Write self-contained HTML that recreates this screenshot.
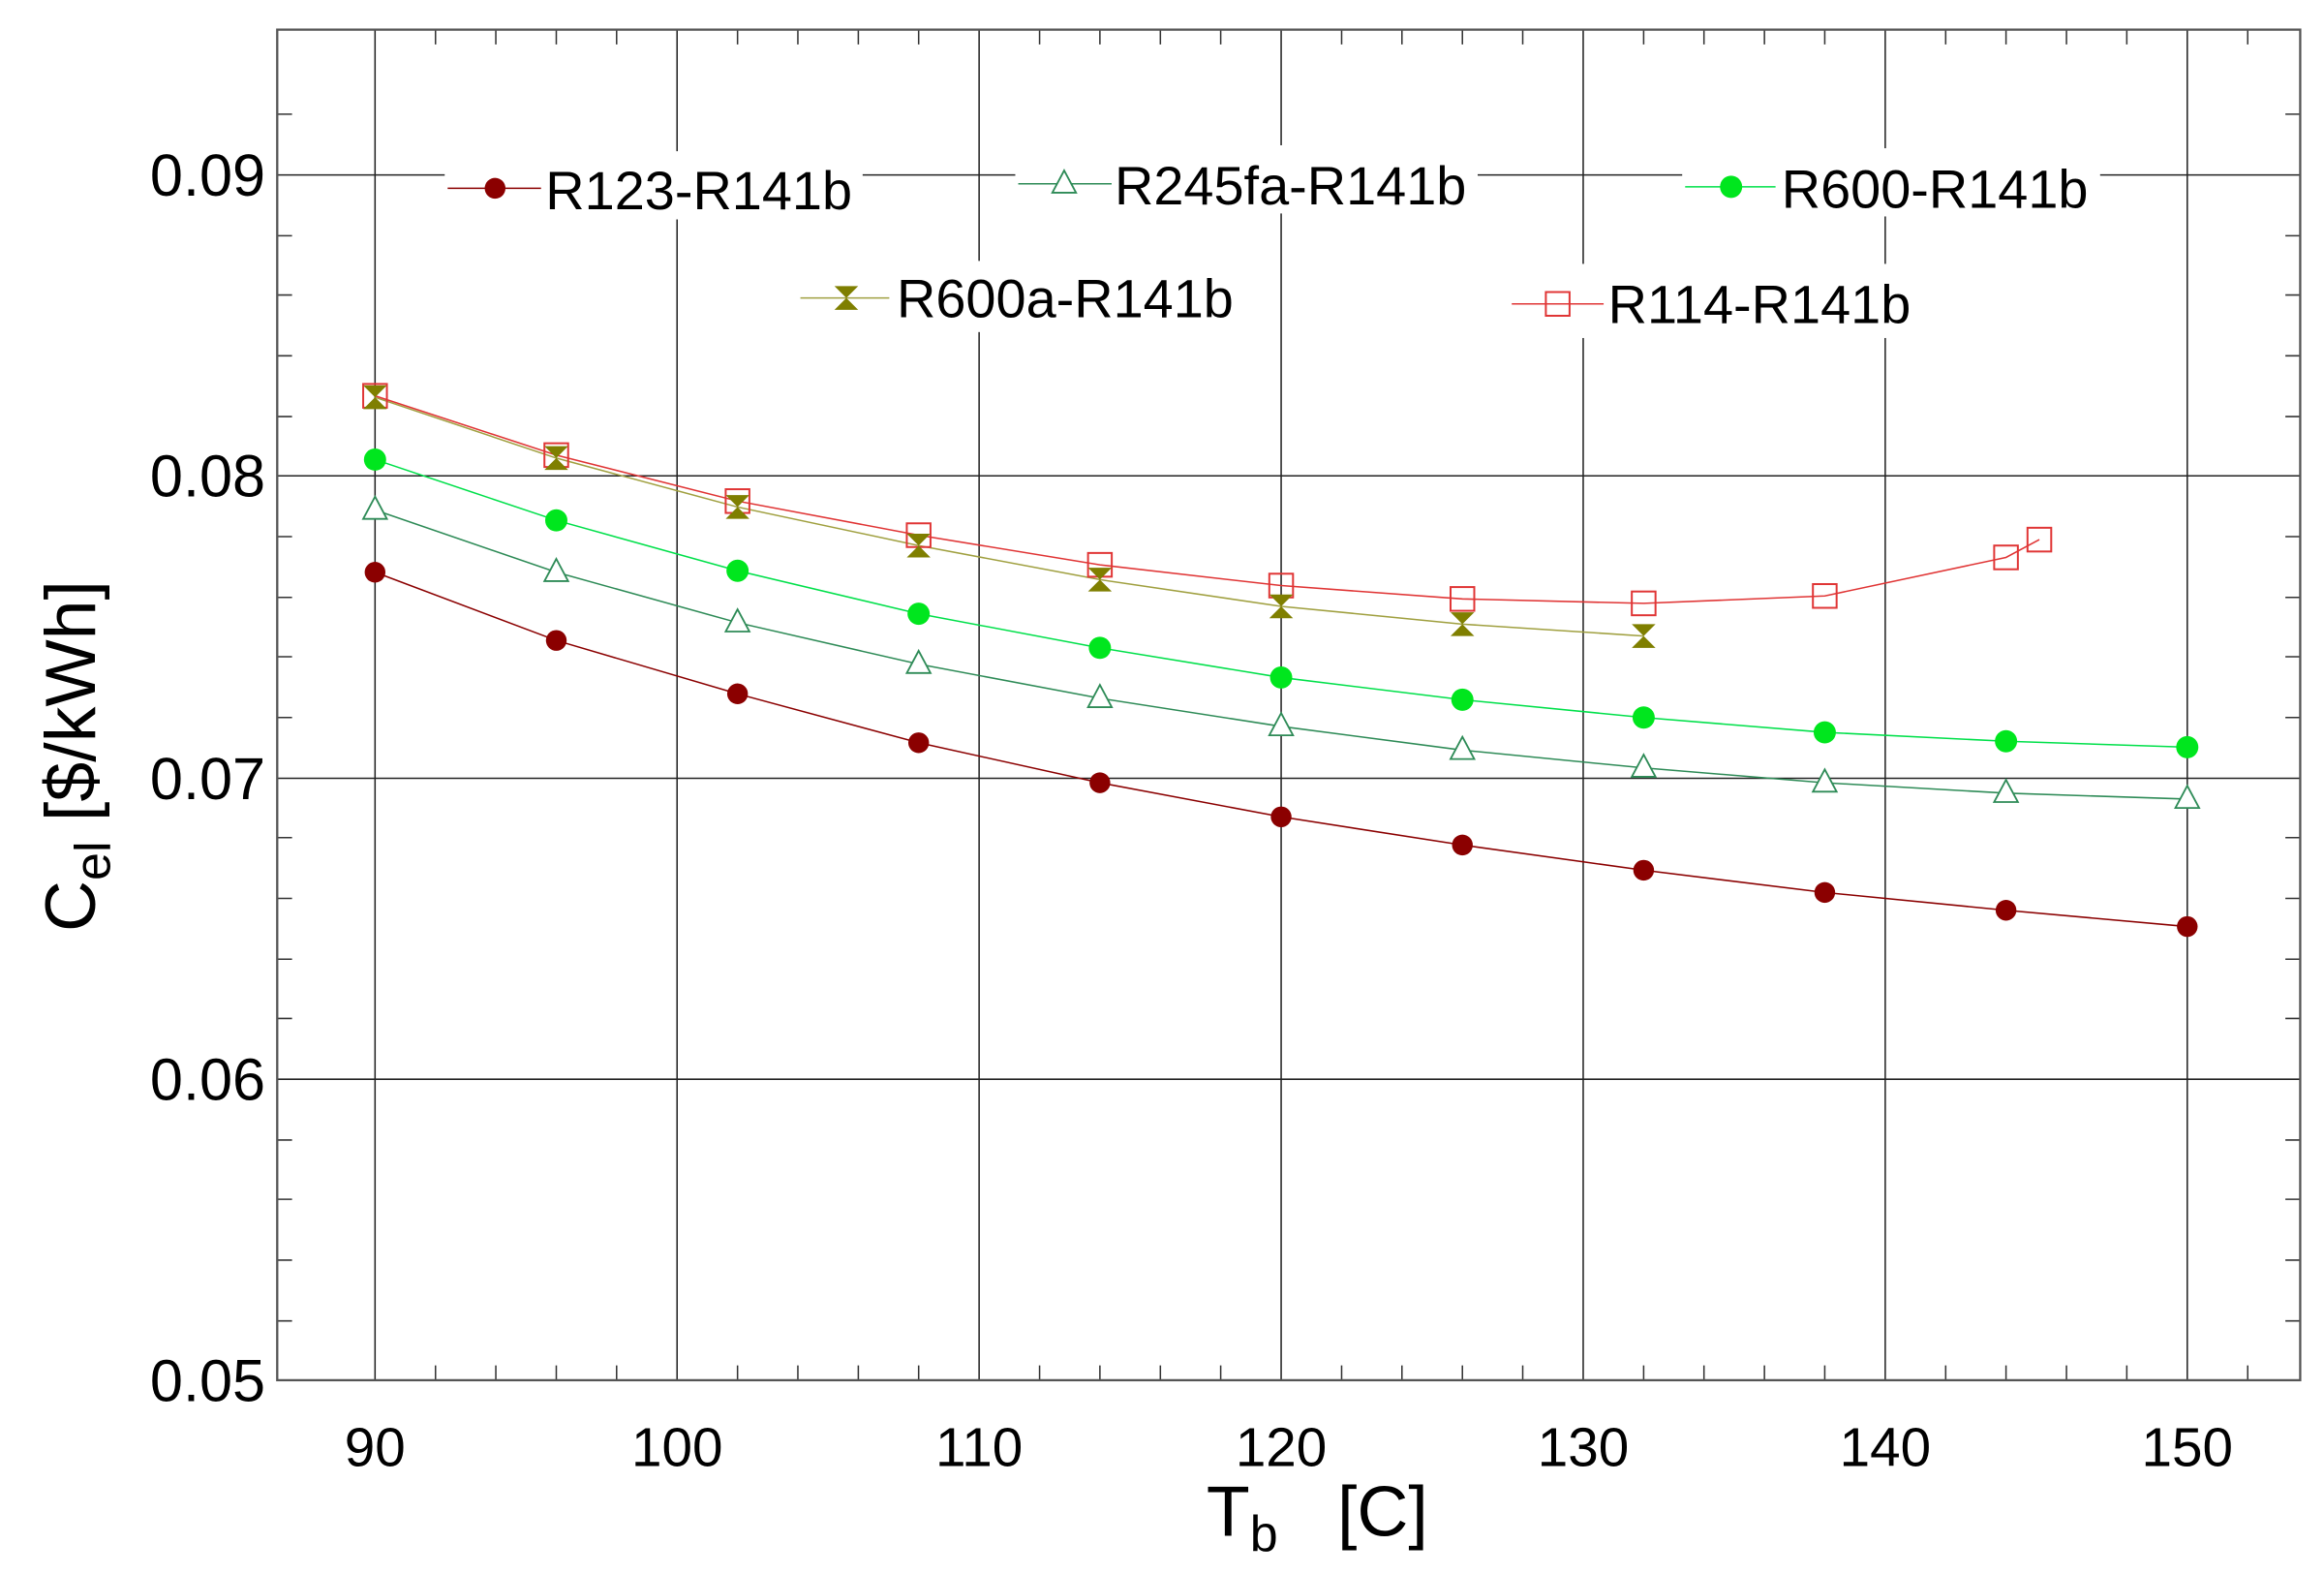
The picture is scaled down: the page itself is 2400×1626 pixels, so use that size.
<!DOCTYPE html>
<html><head><meta charset="utf-8"><style>html,body{margin:0;padding:0;background:#fff}svg{display:block}</style></head>
<body>
<svg width="2400" height="1626" viewBox="0 0 1568 1062.4" xmlns="http://www.w3.org/2000/svg" font-family="Liberation Sans, Arial, sans-serif">
<defs>
<circle id="cR" r="7" fill="#8b0000"/>
<circle id="cG" r="7.5" fill="#00e61e"/>
<path id="tri" d="M0,-9 L8,6 L-8,6 Z" fill="#fff" stroke="#2e8b57" stroke-width="1.2"/>
<rect id="sq" x="-8" y="-8" width="16" height="16" fill="none" stroke="#e03535" stroke-width="1.3"/>
<path id="hg" d="M-8,-8 L8,-8 L0,0 L8,8 L-8,8 L0,0 Z" fill="#7f7f00"/>
</defs>
<rect width="1568" height="1062.4" fill="#fff"/>
<g stroke="#222" stroke-width="1">
<line x1="253" y1="20" x2="253" y2="931"/><line x1="456.8" y1="20" x2="456.8" y2="931"/><line x1="660.6" y1="20" x2="660.6" y2="931"/><line x1="864.4" y1="20" x2="864.4" y2="931"/><line x1="1068.2" y1="20" x2="1068.2" y2="931"/><line x1="1272" y1="20" x2="1272" y2="931"/><line x1="1475.8" y1="20" x2="1475.8" y2="931"/>
<line x1="187" y1="118" x2="1552" y2="118"/><line x1="187" y1="321" x2="1552" y2="321"/><line x1="187" y1="525" x2="1552" y2="525"/><line x1="187" y1="728" x2="1552" y2="728"/>
</g>
<g stroke="#333" stroke-width="1">
<path d="M293.8,931v-10M334.5,931v-10M375.3,931v-10M416,931v-10M497.6,931v-10M538.3,931v-10M579.1,931v-10M619.8,931v-10M701.4,931v-10M742.1,931v-10M782.9,931v-10M823.6,931v-10M905.2,931v-10M945.9,931v-10M986.7,931v-10M1027.4,931v-10M1109,931v-10M1149.7,931v-10M1190.5,931v-10M1231.2,931v-10M1312.8,931v-10M1353.5,931v-10M1394.3,931v-10M1435,931v-10M1516.6,931v-10"/>
<path d="M293.8,20v10M334.5,20v10M375.3,20v10M416,20v10M497.6,20v10M538.3,20v10M579.1,20v10M619.8,20v10M701.4,20v10M742.1,20v10M782.9,20v10M823.6,20v10M905.2,20v10M945.9,20v10M986.7,20v10M1027.4,20v10M1109,20v10M1149.7,20v10M1190.5,20v10M1231.2,20v10M1312.8,20v10M1353.5,20v10M1394.3,20v10M1435,20v10M1516.6,20v10"/>
<path d="M187,77h10M187,159h10M187,199h10M187,240h10M187,281h10M187,362h10M187,403h10M187,443h10M187,484h10M187,565h10M187,606h10M187,647h10M187,687h10M187,769h10M187,809h10M187,850h10M187,891h10"/>
<path d="M1552,77h-10M1552,159h-10M1552,199h-10M1552,240h-10M1552,281h-10M1552,362h-10M1552,403h-10M1552,443h-10M1552,484h-10M1552,565h-10M1552,606h-10M1552,647h-10M1552,687h-10M1552,769h-10M1552,809h-10M1552,850h-10M1552,891h-10"/>
</g>
<rect x="187" y="20" width="1365" height="911" fill="none" stroke="#555" stroke-width="1.5"/>
<g fill="#fff">
<rect x="300" y="102" width="282" height="46"/><rect x="685" y="98" width="312" height="46"/><rect x="1135" y="100" width="282" height="46"/>
<rect x="538" y="176" width="302" height="48"/><rect x="1018" y="178" width="282" height="50"/>
</g>
<polyline fill="none" stroke="#8b0000" stroke-width="1" points="253,386 375.3,432 497.6,468 619.8,501 742.1,528 864.4,551 986.7,570 1109,587 1231.2,602 1353.5,614 1475.8,625"/>
<polyline fill="none" stroke="#2e8b57" stroke-width="1" points="253,344 375.3,386 497.6,420 619.8,448 742.1,471 864.4,490 986.7,506 1109,518 1231.2,528 1353.5,535 1475.8,539"/>
<polyline fill="none" stroke="#00e04a" stroke-width="1" points="253,310 375.3,351 497.6,385 619.8,414 742.1,437 864.4,457 986.7,472 1109,484 1231.2,494 1353.5,500 1475.8,504"/>
<polyline fill="none" stroke="#a0a040" stroke-width="1" points="253,268 375.3,309 497.6,342 619.8,368 742.1,391 864.4,409 986.7,421 1109,429"/>
<polyline fill="none" stroke="#e03535" stroke-width="1" points="253,267 375.3,307 497.6,338 619.8,361 742.1,381 864.4,395 986.7,404 1109,407 1231.2,402 1353.5,376 1376,364"/>
<g>
<use href="#cR" x="253" y="386"/><use href="#cR" x="375.3" y="432"/><use href="#cR" x="497.6" y="468"/><use href="#cR" x="619.8" y="501"/><use href="#cR" x="742.1" y="528"/><use href="#cR" x="864.4" y="551"/><use href="#cR" x="986.7" y="570"/><use href="#cR" x="1109" y="587"/><use href="#cR" x="1231.2" y="602"/><use href="#cR" x="1353.5" y="614"/><use href="#cR" x="1475.8" y="625"/>
<use href="#tri" x="253" y="344"/><use href="#tri" x="375.3" y="386"/><use href="#tri" x="497.6" y="420"/><use href="#tri" x="619.8" y="448"/><use href="#tri" x="742.1" y="471"/><use href="#tri" x="864.4" y="490"/><use href="#tri" x="986.7" y="506"/><use href="#tri" x="1109" y="518"/><use href="#tri" x="1231.2" y="528"/><use href="#tri" x="1353.5" y="535"/><use href="#tri" x="1475.8" y="539"/>
<use href="#cG" x="253" y="310"/><use href="#cG" x="375.3" y="351"/><use href="#cG" x="497.6" y="385"/><use href="#cG" x="619.8" y="414"/><use href="#cG" x="742.1" y="437"/><use href="#cG" x="864.4" y="457"/><use href="#cG" x="986.7" y="472"/><use href="#cG" x="1109" y="484"/><use href="#cG" x="1231.2" y="494"/><use href="#cG" x="1353.5" y="500"/><use href="#cG" x="1475.8" y="504"/>
<use href="#sq" x="253" y="267"/><use href="#sq" x="375.3" y="307"/><use href="#sq" x="497.6" y="338"/><use href="#sq" x="619.8" y="361"/><use href="#sq" x="742.1" y="381"/><use href="#sq" x="864.4" y="395"/><use href="#sq" x="986.7" y="404"/><use href="#sq" x="1109" y="407"/><use href="#sq" x="1231.2" y="402"/><use href="#sq" x="1353.5" y="376"/><use href="#sq" x="1376" y="364"/>
<use href="#hg" x="253" y="268"/><use href="#hg" x="375.3" y="309"/><use href="#hg" x="497.6" y="342"/><use href="#hg" x="619.8" y="368"/><use href="#hg" x="742.1" y="391"/><use href="#hg" x="864.4" y="409"/><use href="#hg" x="986.7" y="421"/><use href="#hg" x="1109" y="429"/>
</g>
<g font-size="36.5" fill="#000">
<line x1="302" y1="127" x2="365" y2="127" stroke="#8b0000"/><use href="#cR" x="334" y="127"/><text x="368" y="141">R123-R141b</text>
<line x1="687" y1="124" x2="750" y2="124" stroke="#2e8b57"/><use href="#tri" x="718" y="124"/><text x="752" y="138">R245fa-R141b</text>
<line x1="1137" y1="126" x2="1198" y2="126" stroke="#00e04a"/><use href="#cG" x="1168" y="126"/><text x="1202" y="140">R600-R141b</text>
<line x1="540" y1="201" x2="600" y2="201" stroke="#a0a040"/><use href="#hg" x="571" y="201"/><text x="605" y="214">R600a-R141b</text>
<line x1="1020" y1="205" x2="1082" y2="205" stroke="#e03535"/><use href="#sq" x="1051" y="205"/><text x="1085" y="218">R114-R141b</text>
</g>
<g font-size="40" fill="#000" text-anchor="end">
<text x="179" y="132">0.09</text><text x="179" y="335">0.08</text><text x="179" y="539">0.07</text><text x="179" y="742">0.06</text><text x="179" y="945">0.05</text>
</g>
<g font-size="37" fill="#000" text-anchor="middle">
<text x="253" y="989">90</text><text x="456.8" y="989">100</text><text x="660.6" y="989">110</text><text x="864.4" y="989">120</text><text x="1068.2" y="989">130</text><text x="1272" y="989">140</text><text x="1475.8" y="989">150</text>
</g>
<text x="814" y="1036" font-size="48" fill="#000" xml:space="preserve">T<tspan font-size="34" dy="10">b</tspan><tspan dy="-10">   [C]</tspan></text>
<text transform="translate(64,510) rotate(-90)" text-anchor="middle" font-size="48" fill="#000">C<tspan font-size="34" dy="10">el</tspan><tspan dy="-10"> [$/kWh]</tspan></text>
</svg>
</body></html>
